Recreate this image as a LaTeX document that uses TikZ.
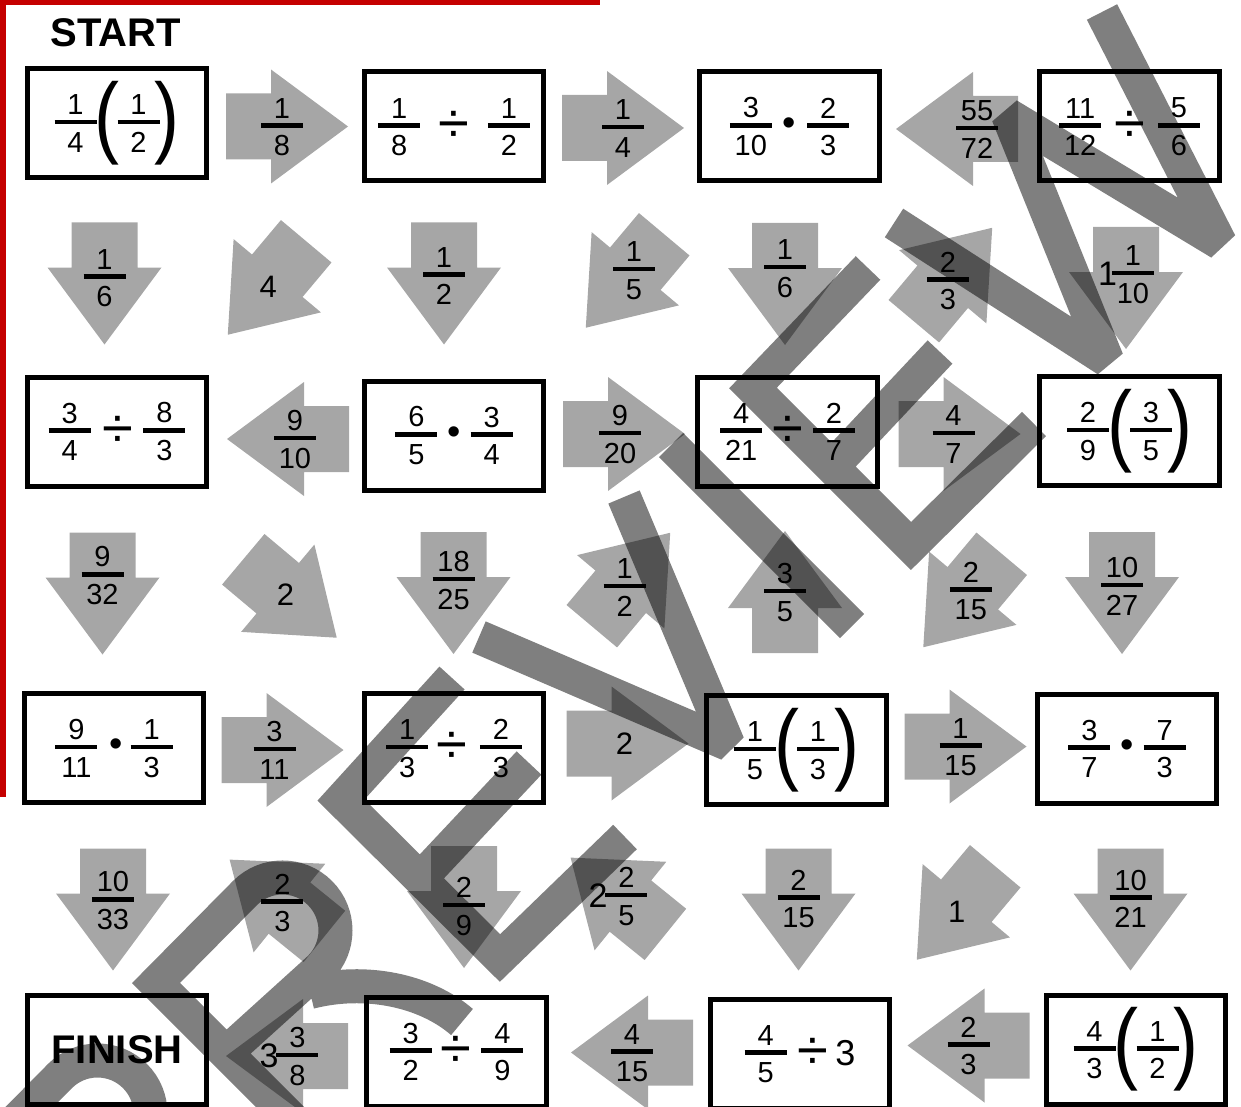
\documentclass[tikz,border=0pt]{standalone}
\usepackage{fontspec}
\setmainfont{Liberation Sans}
\usepackage{graphicx}
\definecolor{arrowgray}{RGB}{166,166,166}
\definecolor{edgered}{RGB}{197,0,0}
\newcommand{\vc}[1]{\vcenter{\hbox{#1}}}
\newcommand{\fr}[2]{\vcenter{\offinterlineskip\halign{\hfil##\hfil\cr
  \rule{0pt}{21pt}#1\cr\noalign{\kern5pt}\rule{42pt}{4.5pt}\cr
  \noalign{\kern7pt}\rule{0pt}{21pt}#2\cr}}}
\newcommand{\whole}[1]{\vc{\fontsize{34}{34}\selectfont #1}}
\newcommand{\divsign}{\vc{\fontsize{56}{56}\selectfont ÷}}
\newcommand{\dotsign}{\vc{\fontsize{38}{38}\selectfont •}}
\newcommand{\parL}{\vc{\scalebox{1.25}[1.5]{\fontsize{60}{60}\selectfont (}}}
\newcommand{\parR}{\vc{\scalebox{1.25}[1.5]{\fontsize{60}{60}\selectfont )}}}
\newcommand{\puzarrow}[5][-4]{%
  \begin{scope}[shift={(#3)},rotate=#4]
    \fill[arrowgray] (-61,-33) -- (-16,-33) -- (-16,-57) -- (61,0)
      -- (-16,57) -- (-16,33) -- (-61,33) -- cycle;
    \node[lbl] (#2) at (#1,0) {#5};
  \end{scope}}

\begin{document}
\begin{tikzpicture}[x=1pt,y=-1pt,
    lbl/.style={inner sep=0pt,font=\fontsize{29}{34}\selectfont},
    cell/.style={draw,line width=5pt,minimum width=179.5pt,minimum height=109pt,
                 inner sep=0pt,font=\fontsize{29}{34}\selectfont},
    stamp/.style={line width=34pt,draw=black,draw opacity=0.5,
                  line join=miter,miter limit=2}]
  \useasboundingbox (0,0) rectangle (1241,1107);
  \clip (0,0) rectangle (1241,1107);
  \fill[edgered] (0,0) rectangle (600,5);
  \fill[edgered] (0,0) rectangle (6,797);
  \node[font=\fontsize{40}{40}\bfseries] (start) at (116,33) {START};

  \puzarrow[-5]{h11}{287,126.5}{0}{$\fr{1}{8}$}
  \puzarrow[0]{h12}{623,128}{0}{$\fr{1}{4}$}
  \puzarrow[-20]{h13}{957,129}{180}{$\fr{55}{72}$}
  \puzarrow[-6]{v11}{104.5,283.5}{270}{$\fr{1}{6}$}
  \puzarrow[-2]{v12}{267,288}{230}{\fontsize{31}{31}\selectfont 4}
  \puzarrow[-8]{v13}{444,283.5}{270}{$\fr{1}{2}$}
  \puzarrow[-14]{v14}{625,281}{230}{$\fr{1}{5}$}
  \puzarrow[-16]{v15}{785,284}{270}{$\fr{1}{6}$}
  \puzarrow[-8]{v16}{953,274.5}{50}{$\fr{2}{3}$}
  \puzarrow[-14]{v17}{1126,288}{270}{$\whole{1}\kern-5pt\fr{1}{10}$}
  \puzarrow[-7]{h21}{288,439}{180}{$\fr{9}{10}$}
  \puzarrow[-4]{h22}{624,434}{0}{$\fr{9}{20}$}
  \puzarrow[-6]{h23}{959.5,434}{0}{$\fr{4}{7}$}
  \puzarrow[-18]{v21}{102.5,593.5}{270}{$\fr{9}{32}$}
  \puzarrow[-6]{v22}{290,598.5}{320}{\fontsize{31}{31}\selectfont 2}
  \puzarrow[-13]{v23}{453.5,593}{270}{$\fr{18}{25}$}
  \puzarrow[-10]{v24}{631,579.5}{50}{$\fr{1}{2}$}
  \puzarrow[0]{v25}{785,592}{90}{$\fr{3}{5}$}
  \puzarrow[-13]{v26}{962.5,600.5}{230}{$\fr{2}{15}$}
  \puzarrow[-7]{v27}{1122,593}{270}{$\fr{10}{27}$}
  \puzarrow[-8]{h31}{282.5,750}{0}{$\fr{3}{11}$}
  \puzarrow[-3]{h32}{627.5,743.5}{0}{\fontsize{31}{31}\selectfont 2}
  \puzarrow[-5]{h33}{965.5,746.5}{0}{$\fr{1}{15}$}
  \puzarrow[-9]{v31}{113,909.5}{270}{$\fr{10}{33}$}
  \puzarrow[-7]{v32}{277,898}{141}{$\fr{2}{3}$}
  \puzarrow[-1]{v33}{464,907}{270}{$\fr{2}{9}$}
  \puzarrow[0]{v34}{618,896}{141}{$\whole{2}\kern-2pt\fr{2}{5}$}
  \puzarrow[-11]{v35}{798.5,909.5}{270}{$\fr{2}{15}$}
  \puzarrow[-1]{v36}{956,913}{230}{\fontsize{31}{31}\selectfont 1}
  \puzarrow[-11]{v37}{1130.5,909.5}{270}{$\fr{10}{21}$}
  \puzarrow[-2]{h41}{287,1056}{180}{$\whole{3}\kern-2pt\fr{3}{8}$}
  \puzarrow[0]{h42}{632,1052.5}{180}{$\fr{4}{15}$}
  \puzarrow[0]{h43}{968.5,1045.5}{180}{$\fr{2}{3}$}

  \node[cell] (c11) at (117,123) {$\fr{1}{4}\kern-2pt\parL\kern-2pt\fr{1}{2}\kern-5pt\parR$};
  \node[cell] (c12) at (454,126.5) {$\fr{1}{8}\hskip18pt\divsign\hskip19pt\fr{1}{2}$};
  \node[cell] (c13) at (789.5,126.5) {$\fr{3}{10}\hskip11pt\dotsign\hskip11pt\fr{2}{3}$};
  \node[cell] (c14) at (1129.5,126.5) {$\fr{11}{12}\hskip13pt\divsign\hskip13pt\fr{5}{6}$};
  \node[cell] (c21) at (117,431.5) {$\fr{3}{4}\hskip12pt\divsign\hskip10pt\fr{8}{3}$};
  \node[cell] (c22) at (454,435.5) {$\fr{6}{5}\hskip10pt\dotsign\hskip10pt\fr{3}{4}$};
  \node[cell] (c23) at (787.5,431.5) {$\fr{4}{21}\hskip10pt\divsign\hskip10pt\fr{2}{7}$};
  \node[cell] (c24) at (1129.5,431) {$\fr{2}{9}\kern-2pt\parL\kern-2pt\fr{3}{5}\kern-5pt\parR$};
  \node[cell] (c31) at (114,748) {$\fr{9}{11}\hskip12pt\dotsign\hskip8pt\fr{1}{3}$};
  \node[cell] (c32) at (454,748) {$\fr{1}{3}\hskip8pt\divsign\hskip13pt\fr{2}{3}$};
  \node[cell] (c33) at (796.5,750) {$\fr{1}{5}\kern-2pt\parL\kern-2pt\fr{1}{3}\kern-5pt\parR$};
  \node[cell] (c34) at (1127,748.5) {$\fr{3}{7}\hskip10pt\dotsign\hskip10pt\fr{7}{3}$};
  \node[cell,font=\fontsize{40}{40}\bfseries] (c41) at (117,1049.5) {FINISH};
  \node[cell] (c42) at (456.5,1051.5) {$\fr{3}{2}\hskip9pt\divsign\hskip10pt\fr{4}{9}$};
  \node[cell] (c43) at (800,1053.5) {$\fr{4}{5}\hskip11pt\divsign\hskip7pt\vc{\fontsize{36}{36}\selectfont 3}$};
  \node[cell] (c44) at (1136,1049.5) {$\fr{4}{3}\kern-2pt\parL\kern-2pt\fr{1}{2}\kern-5pt\parR$};

  \draw[stamp] (-29,1166) -- (60,1076) arc[start angle=225,end angle=405,radius=53] -- (41,1236);
  \draw[stamp] (300,1127) -- (156,983) -- (245,893) arc[start angle=225,end angle=405,radius=53]
    -- (226,1053) (310,992) .. controls (365,978) and (425,990) .. (462,1022);
  \draw[stamp] (452,678) -- (341,800) -- (500,958) -- (625,837) (420,879) -- (529,763);
  \draw[stamp] (479,637) -- (728,744) -- (624,497);
  \draw[stamp] (671,445) -- (852,626);
  \draw[stamp] (868,268) -- (753,388) -- (911,546) -- (1034,424) (832,467) -- (940,352);
  \draw[stamp] (894,223) -- (1107,360) -- (1008,115) -- (1220,243) -- (1102,12);
\end{tikzpicture}
\end{document}
